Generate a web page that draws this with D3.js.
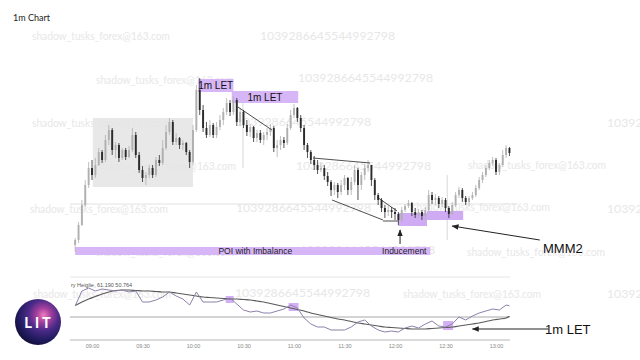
<!DOCTYPE html>
<html><head><meta charset="utf-8">
<script src="https://cdn.jsdelivr.net/npm/d3@7"></script>
<style>body{margin:0;background:#fff;}svg{display:block;}</style>
</head><body>
<svg id="c" width="640" height="360"></svg>
<script>
// ---------- DATA ----------
const startMinute = 530;      // 08:50, first candle
const candleStep = 2;         // minutes per candle
const firstOpen = 55;
const closes = [60,75,95,115,132,125,135,148,140,160, 170,150,155,142,150,143,150,165,145,130,
  122,125,132,125,140,137,152,168,178,158, 162,155,157,148,138,170,210,190,172,165,
  175,165,173,180,188,197,188,200,178,188, 175,168,173,162,167,160,165,168,172,152,
  155,160,157,172,185,192,182,172,155,148, 140,135,130,132,124,118,110,115,108,115,
  122,110,118,130,115,125,132,135,120,105, 100,92,88,90,88,86,80,90,94,97,
  88,85,88,84,90,105,100,102,96,100, 92,86,95,105,110,102,98,102,105,112,
  120,125,132,137,140,128,135,145,152,147];
const highs = [62,78,100,120,138,140,142,152,150,165, 175,172,158,157,152,152,154,172,168,148,
  134,128,135,135,143,145,160,175,182,180, 167,163,160,158,150,175,215,222,195,178,
  180,177,178,185,192,202,200,204,202,192, 190,180,176,174,170,170,168,172,176,174,
  160,164,163,176,190,196,193,185,175,157, 150,144,140,137,135,128,120,118,117,120,
  125,123,123,135,132,128,136,140,135,122, 107,102,95,94,93,92,88,93,96,100,
  98,92,91,90,93,110,108,106,104,103, 102,94,98,108,113,112,104,104,108,115,
  123,128,135,140,143,142,137,150,155,153];
const lows = [48,57,74,93,112,120,122,134,137,138, 155,145,142,138,140,140,142,148,142,127,
  118,115,122,122,123,134,135,150,165,155, 155,151,150,145,132,135,168,185,168,162,
  163,162,162,170,175,185,184,185,174,174, 172,164,163,158,158,157,155,160,164,148,
  143,150,152,155,170,182,178,168,150,142, 136,130,126,128,120,114,104,105,102,105,
  110,105,105,115,100,110,120,128,114,100, 95,88,82,84,82,80,75,78,88,92,
  84,82,82,80,80,88,96,95,92,93, 88,82,85,93,102,98,95,94,100,103,
  110,117,123,130,134,125,125,133,142,144];

const tickMinutes = [540,570,600,630,660,690,720,750,780];
const tickLabels = ["09:00","09:30","10:00","10:30","11:00","11:30","12:00","12:30","13:00"];

// oscillator, sampled every second candle (+ last)
const oscValues = [61,76,79,76,78,77,76,77,75,76, 65,65,67,70,75,71,68,62,75,65,
  65,65,67,69,63,57,55,56,54,54, 56,58,62,59,49,43,40,40,37,37,
  37,40,45,47,41,37,35,36,35,39, 41,39,43,46,41,40,43,50,47,51,
  54,56,58,57,62,61.19];
const oscAverage = [61.5,65,68,70.5,73,75,76.5,77,77,76.5, 76,76,75.5,75,75,74,73,72,71,70,
  69.5,69,68.5,68,68,67.5,67,66,65,63.5, 62,60.5,59,57.5,56,54,52.5,51,49.5,48,
  47,45.5,44,43,42,41,40,39.5,39,38.5, 38,38,38,38.5,39,39.5,40,41,42,43,
  44,45.5,47,48,49,50.76];
const oscLegend = "ry Heiglie, 61.190 50.764";

// annotations in (minute, price) terms
const rangeBox = {t0:540.5, t1:600, p0:113, p1:182};
const letBoxes = [{t0:603, t1:624, p0:208, p1:221, label:"1m LET"},
                  {t0:623, t1:662.5, p0:197, p1:209, label:"1m LET"}];
const poiBar = {t0:530, t1:741, p0:45, p1:53};
const poiLabels = [{t:637, text:"POI with Imbalance"},{t:725.5, text:"Inducement"}];
const zoneBoxes = [{t0:722, t1:739, p0:74, p1:87},{t0:739, t1:760.5, p0:80, p1:89}];
const vLines = [{t:629.7, p0:132, p1:203},{t:751, p0:60, p1:125}];
const gridPrice = 96;
const trendLines = [[626.7,193,646.9,170],[671.3,142,705.2,137],[682.6,100,712.9,80],
                    [709.3,103,721.2,89],[712.9,79,721.8,79]];
const oscBoxes = [{t0:619.4, t1:624.2, v0:64, v1:71},{t0:656.8, t1:662.7, v0:56, v1:64},{t0:748.6, t1:754.5, v0:37, v1:46}];
const oscLevels = [{v:90, c:"#e6e6e6", w:1},{v:50, c:"#a8a8a8", w:1},{v:27, c:"#cfcfcf", w:1.5}];

// ---------- DRAW ----------
const svg = d3.select("#c");
const x = d3.scaleLinear().domain([540,780]).range([92,496]);
const y = d3.scaleLinear().domain([0,300]).range([300,0]);
const yo = d3.scaleLinear().domain([0,100]).range([367,267]);
const plotT0 = 527, plotT1 = 793;

const defs = svg.append("defs");
defs.append("marker").attr("id","ah").attr("viewBox","0 0 10 10").attr("refX",9).attr("refY",5)
  .attr("markerWidth",7).attr("markerHeight",7).attr("orient","auto-start-reverse")
  .append("path").attr("d","M0,1 L10,5 L0,9 z").attr("fill","#222");
const rg = defs.append("radialGradient").attr("id","gal").attr("cx","62%").attr("cy","35%").attr("r","75%");
[["0%","#f07cc0"],["20%","#a8409e"],["45%","#4a2a88"],["75%","#1e1a5a"],["100%","#0e0a2c"]]
  .forEach(s=>rg.append("stop").attr("offset",s[0]).attr("stop-color",s[1]));

// title
svg.append("text").attr("x",13).attr("y",21).text("1m Chart")
  .attr("font-family","Lato").attr("font-size",9).attr("fill","#222");

// watermarks
const S="shadow_tusks_forex@163.com", N="1039286645544992798";
const wm=[[S,32,40],[N,260,40],[S,96,84],[N,298,82],[S,32,127],[N,236,126],[N,607,127],
  [S,98,170],[N,296,170],[S,468,169],[S,30,213],[N,236,212],[S,412,211],[N,607,213],
  [S,96,256],[N,300,254],[S,467,256],[S,33,298],[N,235,297],[S,403,298],[N,607,298]];
svg.append("g").selectAll("text").data(wm).join("text")
  .attr("x",d=>d[1]).attr("y",d=>d[2]).text(d=>d[0])
  .attr("font-family","Lato").attr("font-size",11).attr("fill","#e7e7e7")
  .attr("textLength",d=>d[0]===S?138:135).attr("lengthAdjust","spacingAndGlyphs");

// range box, gridline
svg.append("rect").attr("x",x(rangeBox.t0)).attr("width",x(rangeBox.t1)-x(rangeBox.t0))
  .attr("y",y(rangeBox.p1)).attr("height",y(rangeBox.p0)-y(rangeBox.p1)).attr("fill","#e4e4e4").attr("opacity",0.85);
svg.append("line").attr("x1",x(plotT0)).attr("x2",x(plotT1)).attr("y1",y(gridPrice)).attr("y2",y(gridPrice))
  .attr("stroke","#e2e2e2").attr("stroke-width",1);
svg.selectAll("line.v").data(vLines).join("line").attr("class","v")
  .attr("x1",d=>x(d.t)).attr("x2",d=>x(d.t)).attr("y1",d=>y(d.p1)).attr("y2",d=>y(d.p0))
  .attr("stroke","#d8d8d8").attr("stroke-width",1);

// purple zones
const purple="#d6b6f6";
svg.selectAll("rect.let").data(letBoxes).join("rect").attr("class","let")
  .attr("x",d=>x(d.t0)).attr("width",d=>x(d.t1)-x(d.t0)).attr("y",d=>y(d.p1)).attr("height",d=>y(d.p0)-y(d.p1))
  .attr("fill",purple);
svg.append("rect").attr("x",x(poiBar.t0)).attr("width",x(poiBar.t1)-x(poiBar.t0))
  .attr("y",y(poiBar.p1)).attr("height",y(poiBar.p0)-y(poiBar.p1)).attr("fill",purple);
svg.selectAll("rect.zone").data(zoneBoxes).join("rect").attr("class","zone")
  .attr("x",d=>x(d.t0)).attr("width",d=>x(d.t1)-x(d.t0)).attr("y",d=>y(d.p1)).attr("height",d=>y(d.p0)-y(d.p1))
  .attr("fill","#c9a2f2").attr("opacity",0.9);

// candles
const candles = closes.map((c,i)=>({t:startMinute+i*candleStep, o:i?closes[i-1]:firstOpen, h:highs[i], l:lows[i], c}));
const upC="#b0b0b0", dnC="#2b2b2b";
const cg = svg.append("g");
cg.selectAll("line").data(candles).join("line")
  .attr("x1",d=>x(d.t)).attr("x2",d=>x(d.t)).attr("y1",d=>y(d.h)).attr("y2",d=>y(d.l))
  .attr("stroke",d=>d.c>=d.o?upC:dnC).attr("stroke-width",0.8);
cg.selectAll("rect").data(candles).join("rect")
  .attr("x",d=>x(d.t)-0.95).attr("width",1.9)
  .attr("y",d=>y(Math.max(d.o,d.c))).attr("height",d=>Math.max(0.8,Math.abs(y(d.o)-y(d.c))))
  .attr("fill",d=>d.c>=d.o?upC:dnC);

// labels on zones
svg.selectAll("text.let").data(letBoxes).join("text").attr("class","let")
  .attr("x",d=>(x(d.t0)+x(d.t1))/2).attr("y",d=>(y(d.p0)+y(d.p1))/2+3.5).text(d=>d.label)
  .attr("text-anchor","middle").attr("font-family","Liberation Sans, Arial").attr("font-size",10).attr("fill","#111");
svg.selectAll("text.poi").data(poiLabels).join("text").attr("class","poi")
  .attr("x",d=>x(d.t)).attr("y",(y(poiBar.p0)+y(poiBar.p1))/2+3).text(d=>d.text)
  .attr("text-anchor","middle").attr("font-family","Liberation Sans, Arial").attr("font-size",8.5).attr("fill","#222");

// trendlines
svg.selectAll("line.tr").data(trendLines).join("line").attr("class","tr")
  .attr("x1",d=>x(d[0])).attr("y1",d=>y(d[1])).attr("x2",d=>x(d[2])).attr("y2",d=>y(d[3]))
  .attr("stroke","#222").attr("stroke-width",0.8);

// arrows
svg.append("line").attr("x1",x(723)).attr("x2",x(723)).attr("y1",y(56)).attr("y2",y(70))
  .attr("stroke","#222").attr("stroke-width",1).attr("marker-end","url(#ah)");
svg.append("line").attr("x1",x(806)).attr("y1",y(60)).attr("x2",x(754)).attr("y2",y(74))
  .attr("stroke","#222").attr("stroke-width",1).attr("marker-end","url(#ah)");
svg.append("text").attr("x",543).attr("y",253).text("MMM2")
  .attr("font-family","Liberation Sans, Arial").attr("font-size",13).attr("fill","#111");

// oscillator pane
svg.selectAll("line.lvl").data(oscLevels).join("line").attr("class","lvl")
  .attr("x1",70).attr("x2",510).attr("y1",d=>yo(d.v)).attr("y2",d=>yo(d.v))
  .attr("stroke",d=>d.c).attr("stroke-width",d=>d.w);
svg.selectAll("rect.ob").data(oscBoxes).join("rect").attr("class","ob")
  .attr("x",d=>x(d.t0)).attr("width",d=>x(d.t1)-x(d.t0)).attr("y",d=>yo(d.v1)).attr("height",d=>yo(d.v0)-yo(d.v1))
  .attr("fill","#cfa6f4").attr("opacity",0.9);
const oscIdx = d3.range(0,130,2).concat([129]);
const oscT = oscIdx.map(i=>startMinute+i*candleStep);
const lnSmooth = d3.line().x((d,i)=>x(oscT[i])).y(d=>yo(d)).curve(d3.curveMonotoneX);
const lnRaw = d3.line().x((d,i)=>x(oscT[i])).y(d=>yo(d));
svg.append("path").attr("d",lnSmooth(oscAverage)).attr("fill","none").attr("stroke","#5a5a5a").attr("stroke-width",1.2);
svg.append("path").attr("d",lnRaw(oscValues)).attr("fill","none").attr("stroke","#8d80aa").attr("stroke-width",1);
svg.append("text").attr("x",71).attr("y",287).text(oscLegend)
  .attr("font-family","Liberation Sans, Arial").attr("font-size",5.5).attr("fill","#555");

// axis
const ax = svg.append("g").attr("transform","translate(0,341)")
  .call(d3.axisBottom(x).tickValues(tickMinutes).tickFormat((d,i)=>tickLabels[i]).tickSize(0).tickPadding(3));
ax.select(".domain").remove();
ax.selectAll("text").attr("font-family","Liberation Sans, Arial").attr("font-size",5.5).attr("fill","#888");

svg.append("line").attr("x1",x(811)).attr("y1",yo(38)).attr("x2",x(766)).attr("y2",yo(38))
  .attr("stroke","#222").attr("stroke-width",1).attr("marker-end","url(#ah)");
svg.append("text").attr("x",545).attr("y",334).text("1m LET")
  .attr("font-family","Liberation Sans, Arial").attr("font-size",13).attr("fill","#111");

// logo
svg.append("circle").attr("cx",38).attr("cy",322).attr("r",23).attr("fill","url(#gal)");
svg.append("text").attr("x",39).attr("y",327.5).text("LIT").attr("text-anchor","middle")
  .attr("font-family","Roboto").attr("font-weight","bold").attr("font-size",14).attr("letter-spacing",3).attr("fill","#fff");
</script>
</body></html>
